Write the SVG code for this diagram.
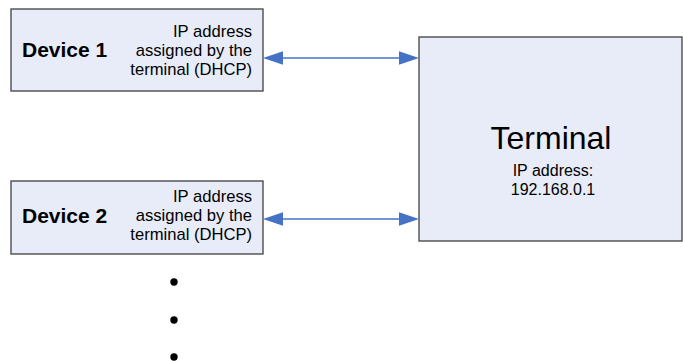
<svg xmlns="http://www.w3.org/2000/svg" width="683" height="361" viewBox="0 0 683 361">
<defs>
<style>
.box{fill:#E8ECF8;stroke:#404040;stroke-width:1.3}
.t{font-family:"Liberation Sans",Arial,sans-serif;fill:#000}
.dev{font-size:21px;font-weight:bold}
.sm{font-size:16.6px;text-anchor:end}
.ctr{text-anchor:middle}
.conn{stroke:#4472C4;stroke-width:1.3;fill:none}
.ah{fill:#4472C4}
</style>
</defs>
<rect width="683" height="361" fill="#fff"/>
<g id="device1">
<rect class="box" x="11" y="9" width="252" height="82"/>
<text class="t dev" x="22" y="57">Device 1</text>
<text class="t sm" x="252" y="36.5">IP address</text>
<text class="t sm" x="252" y="55.5">assigned by the</text>
<text class="t sm" x="252" y="74.5">terminal (DHCP)</text>
</g>
<g id="device2">
<rect class="box" x="11" y="181" width="252" height="73"/>
<text class="t dev" x="22" y="223">Device 2</text>
<text class="t sm" x="252" y="201.5">IP address</text>
<text class="t sm" x="252" y="221">assigned by the</text>
<text class="t sm" x="252" y="240">terminal (DHCP)</text>
</g>
<g id="terminal">
<rect class="box" x="419" y="37" width="263" height="204"/>
<text class="t ctr" x="551" y="149" font-size="32">Terminal</text>
<text class="t ctr" x="553" y="176" font-size="16">IP address:</text>
<text class="t ctr" x="553" y="195" font-size="16">192.168.0.1</text>
</g>
<g id="connectors">
<line class="conn" x1="280" y1="58" x2="402" y2="58"/>
<polygon class="ah" points="263,58 283,51.3 283,64.7"/>
<polygon class="ah" points="419,58 399,51.3 399,64.7"/>
<line class="conn" x1="280" y1="219" x2="402" y2="219"/>
<polygon class="ah" points="263,219 283,212.3 283,225.7"/>
<polygon class="ah" points="419,219 399,212.3 399,225.7"/>
</g>
<g id="dots" fill="#000">
<circle cx="174" cy="282" r="3.7"/>
<circle cx="174" cy="320" r="3.7"/>
<circle cx="174" cy="357" r="3.7"/>
</g>
</svg>
